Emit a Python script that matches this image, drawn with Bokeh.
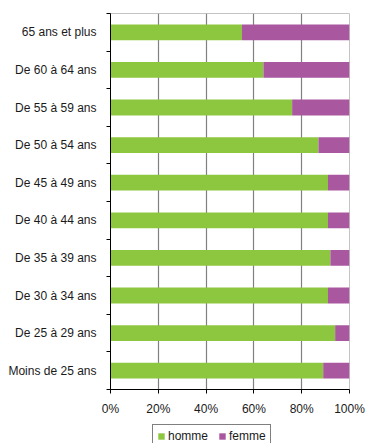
from bokeh.plotting import figure
from bokeh.layouts import column
from bokeh.models import ColumnDataSource, FixedTicker, PrintfTickFormatter, Legend, LegendItem, Range1d
from bokeh.embed import file_html
from bokeh.resources import INLINE

# Age groups, bottom to top
age_groups = [
    "Moins de 25 ans",
    "De 25 à 29 ans",
    "De 30 à 34 ans",
    "De 35 à 39 ans",
    "De 40 à 44 ans",
    "De 45 à 49 ans",
    "De 50 à 54 ans",
    "De 55 à 59 ans",
    "De 60 à 64 ans",
    "65 ans et plus",
]
# Share of each sex within the group (%)
homme = [89, 94, 91, 92, 91, 91, 87, 76, 64, 55]
femme = [11, 6, 9, 8, 9, 9, 13, 24, 36, 45]

series = ["homme", "femme"]
colors = ["#8dc63f", "#a9579f"]
x_ticks = [0, 20, 40, 60, 80, 100]

FONT = "Liberation Sans"

centers = [i + 0.5 for i in range(len(age_groups))]
bounds = list(range(len(age_groups) + 1))

source = ColumnDataSource(dict(y=centers, homme=homme, femme=femme))

p = figure(
    width=366, height=420,
    x_range=Range1d(0, 100), y_range=Range1d(0, len(age_groups)),
    output_backend="svg", toolbar_location=None,
    min_border_left=110, min_border_right=17,
    min_border_top=13, min_border_bottom=31,
)
p.background_fill_color = "white"
p.border_fill_color = "white"
p.outline_line_color = "#c4c4c4"
p.outline_line_width = 1

p.hbar_stack(series, y="y", height=0.42, color=colors,
             line_color=None, source=source)

# vertical grid every 20 %
p.xgrid.ticker = FixedTicker(ticks=x_ticks)
p.xgrid.grid_line_color = "#808080"
p.xgrid.grid_line_width = 1.2
p.ygrid.grid_line_color = None

# x axis: percentages
p.xaxis.ticker = FixedTicker(ticks=x_ticks)
p.xaxis.formatter = PrintfTickFormatter(format="%d%%")
p.xaxis.axis_line_color = "black"
p.xaxis.major_tick_line_color = "black"
p.xaxis.major_tick_out = 4
p.xaxis.major_tick_in = 0
p.xaxis.minor_tick_line_color = None
p.xaxis.major_label_text_font = FONT
p.xaxis.major_label_text_font_size = "12px"
p.xaxis.major_label_text_color = "#1a1a1a"
p.xaxis.major_label_standoff = 8

# y axis: labels at the bar centres, ticks between groups
p.yaxis.ticker = FixedTicker(ticks=centers, minor_ticks=bounds)
p.yaxis.major_label_overrides = {c: lab for c, lab in zip(centers, age_groups)}
p.yaxis.axis_line_color = "black"
p.yaxis.major_tick_line_color = None
p.yaxis.major_tick_out = 0
p.yaxis.major_tick_in = 0
p.yaxis.minor_tick_line_color = "black"
p.yaxis.minor_tick_out = 4
p.yaxis.minor_tick_in = 0
p.yaxis.major_label_text_font = FONT
p.yaxis.major_label_text_font_size = "12px"
p.yaxis.major_label_text_color = "#1a1a1a"
p.yaxis.major_label_standoff = 10

# legend strip below the chart (its frame lines up with the chart's frame)
leg = figure(
    width=366, height=23,
    x_range=Range1d(0, 1), y_range=Range1d(0, 1),
    x_axis_type=None, y_axis_type=None,
    output_backend="svg", toolbar_location=None,
    min_border=0,
)
leg.outline_line_color = None
leg.background_fill_color = "white"
leg.border_fill_color = "white"
leg.xgrid.visible = False
leg.ygrid.visible = False
# swatch renderers sit outside the strip's view; only their legend icons show
swatches = [leg.hbar(y=[-10], left=[0], right=[1], height=0.5, color=c, line_color=None)
            for c in colors]

legend = Legend(
    items=[LegendItem(label=s, renderers=[r]) for s, r in zip(series, swatches)],
    orientation="horizontal",
    location=(42, -5),
    margin=0, padding=4, spacing=10,
    glyph_width=8, glyph_height=8,
    label_standoff=3, label_height=14,
    label_text_font=FONT, label_text_font_size="12px",
    label_text_color="#1a1a1a",
    border_line_color="black", border_line_width=1,
    background_fill_color="white", background_fill_alpha=1,
)
leg.add_layout(legend, "center")

layout = column(p, leg, spacing=0)
open("out.html", "w").write(file_html(layout, INLINE))
